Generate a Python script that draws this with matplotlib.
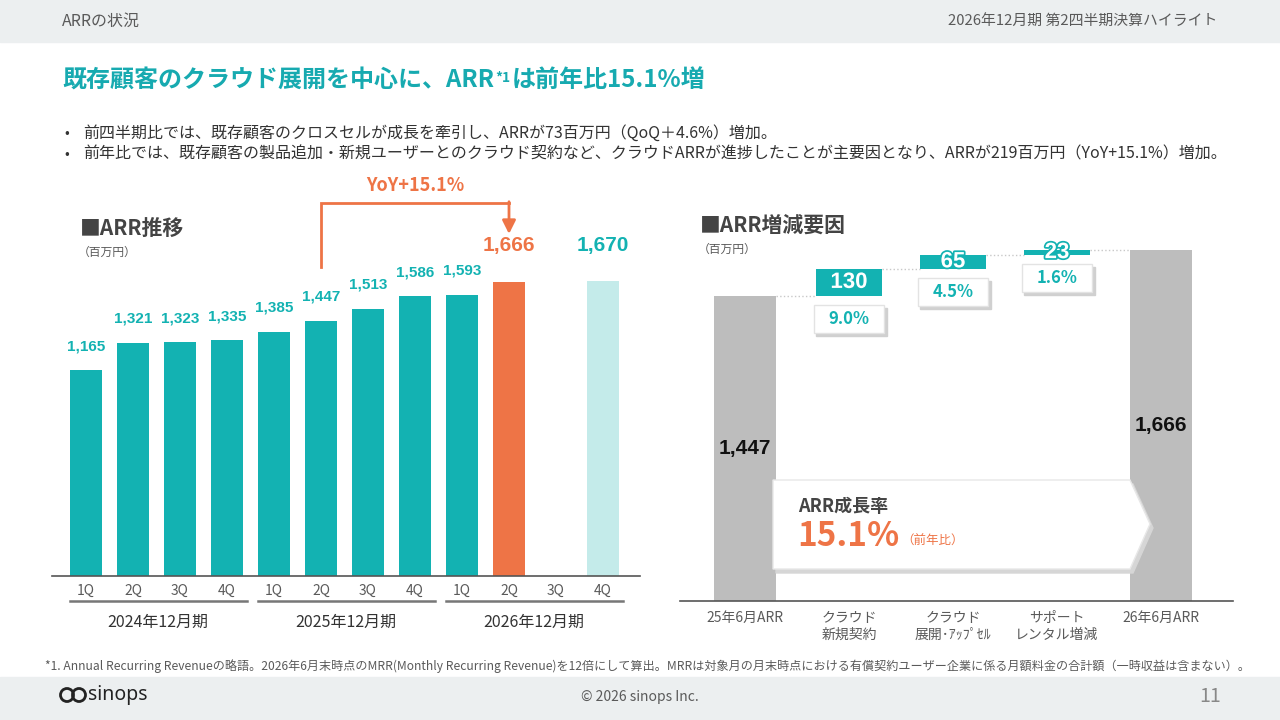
import matplotlib
matplotlib.use("Agg")
import matplotlib.pyplot as plt
from matplotlib.patches import Rectangle, Polygon, Circle
import matplotlib.patheffects as pe

plt.rcParams['font.family'] = ['Noto Sans CJK JP', 'DejaVu Sans']

TEAL = '#13b2b2'
ORANGE = '#ee7446'
LIGHT_TEAL = '#c4ebea'
GREY_BAR = '#bdbdbd'
DARK = '#333333'
TXT_GREY = '#5a5a5a'
BAND = '#eceff0'
NUM_FONT = ['Liberation Sans', 'DejaVu Sans']

# ---- data ----
quarters = ['1Q', '2Q', '3Q', '4Q'] * 3
fiscal_years = ['2024年12月期', '2025年12月期', '2026年12月期']
arr_values = [1165, 1321, 1323, 1335, 1385, 1447, 1513, 1586, 1593, 1666, None, 1670]
current_idx = 9      # orange bar (latest quarter)
forecast_idx = 11    # light bar (plan)
yoy_from_idx = 5
yoy_text = 'YoY+15.1%'

wf_labels = ['25年6月ARR', 'クラウド\n新規契約', 'クラウド\n展開･ｱｯﾌﾟｾﾙ', 'サポート\nレンタル増減', '26年6月ARR']
wf_start = 1447
wf_end = 1666
wf_deltas = [130, 65, 23]
wf_rates = ['9.0%', '4.5%', '1.6%']
growth_rate = '15.1%'

bullets = [
    '前四半期比では、既存顧客のクロスセルが成長を牽引し、ARRが73百万円（QoQ＋4.6%）増加。',
    '前年比では、既存顧客の製品追加・新規ユーザーとのクラウド契約など、クラウドARRが進捗したことが主要因となり、ARRが219百万円（YoY+15.1%）増加。',
]
footnote = ('*1. Annual Recurring Revenueの略語。2026年6月末時点のMRR(Monthly Recurring Revenue)を12倍にして算出。'
            'MRRは対象月の月末時点における有償契約ユーザー企業に係る月額料金の合計額（一時収益は含まない）。')

W, H = 1280, 720
fig = plt.figure(figsize=(12.8, 7.2), dpi=100)


def fig_rect(x0, y0, x1, y1):
    return [x0 / W, 1 - y1 / H, (x1 - x0) / W, (y1 - y0) / H]


# background layer in pixel coords
bg = fig.add_axes([0, 0, 1, 1], zorder=0)
bg.set_xlim(0, W)
bg.set_ylim(H, 0)
bg.axis('off')
bg.add_patch(Rectangle((0, 0), W, 42, color=BAND))
bg.add_patch(Rectangle((0, 677), W, 43, color=BAND))
bg.text(62, 21, 'ARRの状況', fontsize=11.5, color=TXT_GREY, va='center')
bg.text(1217, 21, '2026年12月期 第2四半期決算ハイライト', fontsize=10.7, color=TXT_GREY,
        va='center', ha='right')

TITLE_C = '#17aab0'
t = bg.text(62, 80, '既存顧客のクラウド展開を中心に、ARR', fontsize=17.3, fontweight='bold',
            color=TITLE_C, va='center')
fig.canvas.draw()
bb = t.get_window_extent()
t2 = bg.annotate('*1', xy=(bb.x1 + 1, bb.y1), xycoords='figure pixels', xytext=(0, -2),
                 textcoords='offset points', fontsize=10, fontweight='bold', color=TITLE_C,
                 va='top', ha='left')
fig.canvas.draw()
bb2 = t2.get_window_extent()
bg.annotate('は前年比15.1%増', xy=(bb2.x1 + 1, H - 80), xycoords='figure pixels',
            fontsize=17.3, fontweight='bold', color=TITLE_C, va='center', ha='left')

for k, line in enumerate(bullets):
    y = 133 + 21 * k
    bg.text(67, y, '•', fontsize=10, color=DARK, va='center', ha='center')
    bg.text(83, y, line, fontsize=11.5, color=DARK, va='center')

bg.text(45, 666, footnote, fontsize=8.7, color=TXT_GREY, va='center')
bg.text(640, 697, '© 2026 sinops Inc.', fontsize=10, color=TXT_GREY, va='center', ha='center')
bg.text(1210, 697, '11', fontsize=14, color='#888888', va='center', ha='center')
# logo
bg.add_patch(Circle((67, 695), 6.5, fill=False, ec='#222222', lw=2))
bg.add_patch(Circle((79, 695), 6.5, fill=False, ec='#222222', lw=2))
bg.text(88, 695, 'sinops', fontsize=14, fontweight='bold', color='#222222', va='center',
        family=['Noto Sans', 'DejaVu Sans'])

# section titles
bg.text(80, 228, '■ARR推移', fontsize=15, fontweight='bold', color='#444444', va='center')
bg.text(78, 252, '（百万円）', fontsize=8.5, color=TXT_GREY, va='center')
bg.text(700, 225, '■ARR増減要因', fontsize=15, fontweight='bold', color='#444444', va='center')
bg.text(698, 249, '（百万円）', fontsize=8.5, color=TXT_GREY, va='center')

# ---- left chart: ARR trend ----
x0, step = 86, 47
scale1 = 0.1765
ax1 = fig.add_axes(fig_rect(52, 180, 640, 576), zorder=1)
ax1.patch.set_visible(False)
ax1.set_xlim((52 - x0) / step, (640 - x0) / step)
ax1.set_ylim(0, (576 - 180) / scale1)

for i, v in enumerate(arr_values):
    if v is None:
        continue
    if i == current_idx:
        c = ORANGE
    elif i == forecast_idx:
        c = LIGHT_TEAL
    else:
        c = TEAL
    ax1.bar(i, v, width=0.66, color=c, zorder=2)
    big = i in (current_idx, forecast_idx)
    ax1.annotate(f'{v:,}', (i, v), xytext=(0, 26 if big else 17.3), textcoords='offset points',
                 ha='center', va='center', fontsize=15 if big else 11, fontweight='bold',
                 color=ORANGE if i == current_idx else TEAL, family=NUM_FONT)

# YoY bracket arrow
y_start = arr_values[yoy_from_idx] + 54 / scale1
y_top = arr_values[yoy_from_idx] + 118 / scale1
y_end = arr_values[current_idx] + 48 / scale1
ax1.plot([yoy_from_idx, yoy_from_idx, current_idx], [y_start, y_top, y_top],
         color=ORANGE, lw=2, solid_joinstyle='miter', clip_on=False)
ax1.annotate('', xy=(current_idx, y_end), xytext=(current_idx, y_top + 5),
             arrowprops=dict(arrowstyle='-|>', color=ORANGE, lw=2, mutation_scale=20,
                             shrinkA=0, shrinkB=0), annotation_clip=False)
ax1.annotate(yoy_text, ((yoy_from_idx + current_idx) / 2, y_top), xytext=(0, 12),
             textcoords='offset points', ha='center', va='center', fontsize=13,
             fontweight='bold', color=ORANGE)

for s in ['top', 'left', 'right']:
    ax1.spines[s].set_visible(False)
ax1.spines['bottom'].set_color('#555555')
ax1.spines['bottom'].set_linewidth(1.2)
ax1.set_yticks([])
ax1.set_xticks(range(len(quarters)))
ax1.set_xticklabels(quarters, fontsize=10, color=TXT_GREY)
ax1.tick_params(axis='x', length=0, pad=6)

tr = ax1.get_xaxis_transform()
for g, name in enumerate(fiscal_years):
    a, b = g * 4 - 0.35, g * 4 + 3.42
    ax1.plot([a, b], [-0.063, -0.063], transform=tr, color='#777777', lw=1.8, clip_on=False)
    ax1.text((a + b) / 2, -0.117, name, transform=tr, ha='center', va='center',
             fontsize=11.5, color=DARK)

# ---- right chart: waterfall ----
c0, cstep = 745, 104
scale2 = 0.2107
ax2 = fig.add_axes(fig_rect(680, 200, 1233, 601), zorder=1)
ax2.patch.set_visible(False)
ax2.set_xlim((680 - c0) / cstep, (1233 - c0) / cstep)
ax2.set_ylim(0, (601 - 200) / scale2)

n = len(wf_labels)
ax2.bar(0, wf_start, width=0.6, color=GREY_BAR, zorder=2)
ax2.bar(n - 1, wf_end, width=0.6, color=GREY_BAR, zorder=2)
for xi, v in [(0, wf_start), (n - 1, wf_end)]:
    ax2.text(xi, v / 2, f'{v:,}', ha='center', va='center', fontsize=15, fontweight='bold',
             color='#111111', family=NUM_FONT, zorder=3)

level = wf_start
prev_right = 0 + 0.3
box_w = 0.68
box_h = 28 / scale2
gap = 9 / scale2
for k, (d, r) in enumerate(zip(wf_deltas, wf_rates)):
    xi = k + 1
    ax2.plot([prev_right, xi - 0.315], [level, level], color='#c8c8c8', lw=1, ls=':', zorder=1)
    ax2.bar(xi, d, bottom=level, width=0.63, color=TEAL, zorder=2)
    ax2.text(xi, level + d / 2, str(d), ha='center', va='center', fontsize=16,
             fontweight='bold', color='white', family=NUM_FONT, zorder=4,
             path_effects=[pe.withStroke(linewidth=2.5, foreground=TEAL)])
    top_box = level - gap
    ax2.add_patch(Rectangle((xi - box_w / 2 + 0.025, top_box - box_h - 3 / scale2), box_w, box_h,
                            color='#d0d0d0', zorder=2))
    ax2.add_patch(Rectangle((xi - box_w / 2, top_box - box_h), box_w, box_h,
                            facecolor='white', edgecolor='#e3e3e3', lw=1, zorder=3))
    ax2.text(xi, top_box - box_h / 2, r, ha='center', va='center', fontsize=12,
             fontweight='bold', color=TEAL, zorder=4)
    level += d
    prev_right = xi + 0.315
ax2.plot([prev_right, n - 1 - 0.3], [level, level], color='#c8c8c8', lw=1, ls=':', zorder=1)

for s in ['top', 'left', 'right']:
    ax2.spines[s].set_visible(False)
ax2.spines['bottom'].set_color('#555555')
ax2.spines['bottom'].set_linewidth(1.2)
ax2.set_yticks([])
ax2.set_xticks(range(n))
ax2.set_xticklabels(wf_labels, fontsize=10, color=TXT_GREY, linespacing=1.25, va='top')
ax2.tick_params(axis='x', length=0, pad=7)

# ---- growth-rate callout on top ----
fg = fig.add_axes([0, 0, 1, 1], zorder=3)
fg.set_xlim(0, W)
fg.set_ylim(H, 0)
fg.axis('off')
pts = [(773, 480), (1130, 480), (1150, 524), (1130, 569), (773, 569)]
fg.add_patch(Polygon([(x + 3, y + 4) for x, y in pts], closed=True, color='#d6d6d6'))
fg.add_patch(Polygon(pts, closed=True, facecolor='white', edgecolor='#e8e8e8', lw=1))
fg.text(798, 506, 'ARR成長率', fontsize=13, fontweight='bold', color='#444444', va='center')
g = fg.text(797, 537, growth_rate, fontsize=24, fontweight='bold', color=ORANGE, va='center')
fig.canvas.draw()
gb = g.get_window_extent()
fg.annotate('（前年比）', xy=(gb.x1 + 2, H - 541), xycoords='figure pixels', fontsize=9,
            color=ORANGE, va='center')

fig.savefig('out.png', dpi=100)
